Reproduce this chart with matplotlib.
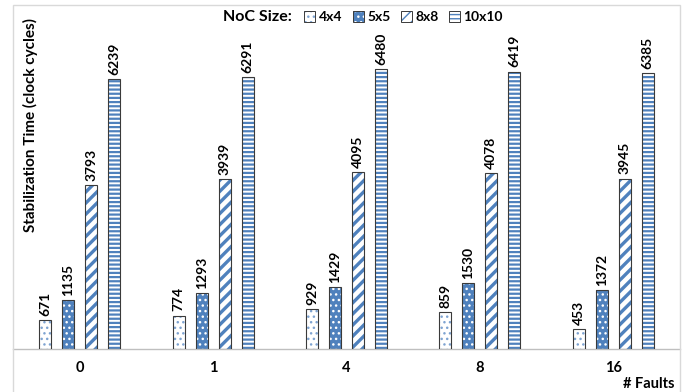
import matplotlib
matplotlib.use("Agg")
import matplotlib.pyplot as plt
import numpy as np
from matplotlib.patches import Rectangle
from matplotlib.legend_handler import HandlerTuple

categories = ["0", "1", "4", "8", "16"]
series_names = ["4x4", "5x5", "8x8", "10x10"]
v4x4 = [671, 774, 929, 859, 453]
v5x5 = [1135, 1293, 1429, 1530, 1372]
v8x8 = [3793, 3939, 4095, 4078, 3945]
v10x10 = [6239, 6291, 6480, 6419, 6385]
values = [v4x4, v5x5, v8x8, v10x10]

BLUE = "#4f81bd"
LIGHTBLUE = "#7ea3d1"
FONT = ["Lato", "DejaVu Sans"]
plt.rcParams["font.family"] = FONT

W, H = 694, 392
fig = plt.figure(figsize=(W / 100, H / 100), dpi=100)
fig.patch.set_facecolor("white")

# chart border
fig.add_artist(Rectangle((13 / W, -0.05), 667 / W, 1.05 - 5 / H, transform=fig.transFigure,
                         fill=False, edgecolor="#d9d9d9", linewidth=1.0))

ax = fig.add_axes([13 / W, (H - 349) / H, 667 / W, (349 - 5) / H])
ax.set_xlim(-0.5, len(categories) - 0.5)
ax.set_ylim(0, 7960)
for s in ["top", "right", "left"]:
    ax.spines[s].set_visible(False)
ax.spines["bottom"].set_color("#bfbfbf")
ax.spines["bottom"].set_linewidth(1.0)
ax.set_yticks([])
ax.tick_params(axis="x", length=0, pad=9)
x = np.arange(len(categories))
ax.set_xticks(x)
ax.set_xticklabels(categories, fontsize=10.5, fontweight="bold")

styles = [
    dict(face="white", hcol=LIGHTBLUE, hatch="...", hlw=1.0),
    dict(face=BLUE, hcol="white", hatch="...", hlw=1.0),
    dict(face="white", hcol=BLUE, hatch="///", hlw=2.4),
    dict(face="white", hcol=BLUE, hatch="----", hlw=1.6),
]
bw = 0.09
pitch = 0.172
for i, (vals, st) in enumerate(zip(values, styles)):
    pos = x + (i - 1.5) * pitch
    with plt.rc_context({"hatch.linewidth": st["hlw"]}):
        ax.bar(pos, vals, width=bw, color=st["face"], edgecolor=st["hcol"],
               hatch=st["hatch"], linewidth=0, zorder=2)
    ax.bar(pos, vals, width=bw, fill=False, edgecolor="#3a3a3a", linewidth=0.8, zorder=3)
    for px, v in zip(pos, vals):
        ax.annotate(str(v), (px, v), xytext=(0, 3), textcoords="offset points",
                    rotation=90, ha="center", va="bottom", fontsize=10, fontweight="bold")

fig.text(30 / W, 1 - 125 / H, "Stabilization Time (clock cycles)", rotation=90,
         ha="center", va="center", fontsize=11, fontweight="bold")

fig.text(649 / W, 1 - 384 / H, "# Faults", ha="center", va="center",
         fontsize=10.5, fontweight="bold")

fig.text(257 / W, 1 - 17 / H, "NoC Size:", ha="center", va="center",
         fontsize=11.5, fontweight="bold")
proxies = []
for st in styles:
    with plt.rc_context({"hatch.linewidth": min(st["hlw"], 1.5)}):
        hp = Rectangle((0, 0), 1, 1, facecolor=st["face"], edgecolor=st["hcol"],
                       hatch=st["hatch"], linewidth=0)
    op = Rectangle((0, 0), 1, 1, fill=False, edgecolor="#3a3a3a", linewidth=0.7)
    proxies.append((hp, op))
leg = fig.legend(proxies, series_names, loc="center left", bbox_to_anchor=(304 / W, 1 - 17 / H),
                 ncol=4, frameon=False, handlelength=0.8, handleheight=0.8,
                 handletextpad=0.25, columnspacing=0.75, borderaxespad=0, borderpad=0,
                 handler_map={tuple: HandlerTuple(ndivide=1)},
                 prop={"family": FONT, "weight": "bold", "size": 10})

fig.savefig("out.png", dpi=100)
